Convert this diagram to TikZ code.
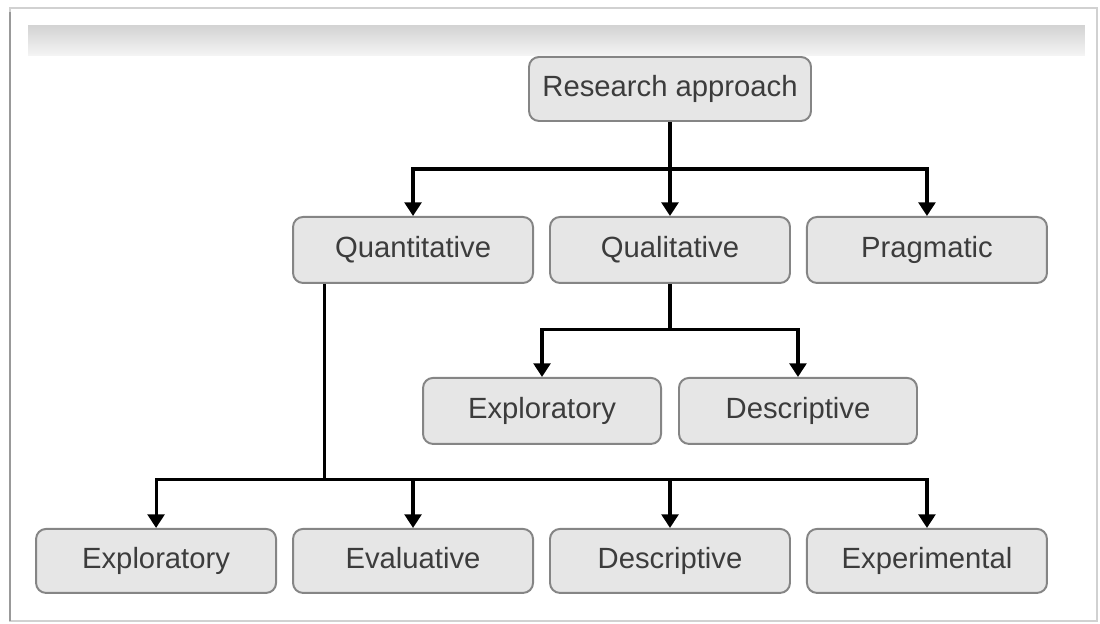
\documentclass[tikz,border=0pt]{standalone}
\usepackage{fontspec}
\setmainfont{Liberation Sans}
\usetikzlibrary{arrows.meta,positioning,calc}
\definecolor{boxfill}{HTML}{E6E6E6}
\definecolor{boxline}{HTML}{858585}
\definecolor{boxtext}{HTML}{3C3C3C}

\begin{document}
\begin{tikzpicture}[>={Triangle[width=0.42cm,length=0.34cm]},line width=2.2pt,
                    box node/.style={rectangle,rounded corners=0.25cm,draw=boxline,line width=1.4pt,
                      fill=boxfill,text=boxtext,minimum width=6cm,minimum height=1.65cm,inner sep=0pt,
                      text height=15pt,text depth=4.5pt,font=\fontsize{20.8}{24}\selectfont}]
  \useasboundingbox (0,0) rectangle (27.5,-15.6);
  % frame and header bar
  \draw[line width=1pt,black!18] (0.25,-0.2) rectangle (27.42,-15.52);
  \draw[line width=2pt,black!40] (0.25,-0.3) -- (0.25,-15.52);
  \shade[top color=black!17,bottom color=black!4] (0.7,-0.65) rectangle (27.12,-1.4);

  \node[box node,minimum width=7.05cm,minimum height=1.6cm] (root) at (16.75,-2.225) {Research approach};
  \node[box node] (qual) [below=2.35cm of root] {Qualitative};
  \node[box node] (quant) [left=0.375cm of qual] {Quantitative};
  \node[box node] (prag) [right=0.375cm of qual] {Pragmatic};
  \node[box node,minimum width=5.95cm] (qlexpl) [below left=2.325cm and 0.2cm of qual.south] {Exploratory};
  \node[box node,minimum width=5.95cm] (qldesc) [below right=2.325cm and 0.2cm of qual.south] {Descriptive};
  \node[box node,minimum height=1.6cm] (eval) [below=6.1cm of quant] {Evaluative};
  \node[box node,minimum height=1.6cm] (qnexpl) [left=0.375cm of eval] {Exploratory};
  \node[box node,minimum height=1.6cm] (qndesc) [right=0.375cm of eval] {Descriptive};
  \node[box node,minimum height=1.6cm] (exper) [right=0.375cm of qndesc] {Experimental};

  % connectors
  \coordinate (bus1) at ($(root.south)!0.5!(qual.north)$);
  \coordinate (bus2) at ($(qual.south)+(0,-1.15)$);
  \coordinate (qstem) at ($(quant.south west)+(0.8,0)$);
  \coordinate (bus3) at ($(qstem |- eval.north)+(0,1.2)$);
  \draw[->] (root.south) -- (qual.north);
  \draw[->] (bus1) -| (quant.north);
  \draw[->] (bus1) -| (prag.north);
  \draw[->] (qual.south) -- (bus2) -| (qlexpl.north);
  \draw[->] (bus2) -| (qldesc.north);
  \draw[->] (qstem) -- (bus3) -| (qnexpl.north);
  \draw[->] (bus3) -| (eval.north);
  \draw[->] (bus3) -| (qndesc.north);
  \draw[->] (bus3) -| (exper.north);
\end{tikzpicture}
\end{document}
